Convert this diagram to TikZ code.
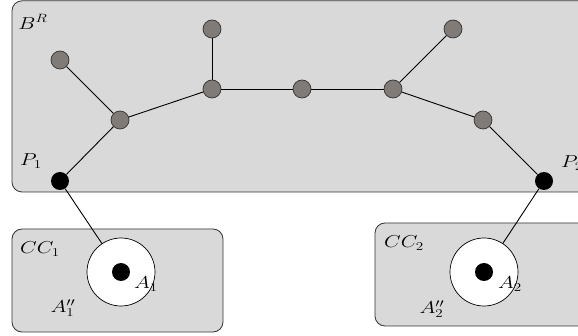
\documentclass[tikz,border=0pt]{standalone}
\usepackage{graphicx}
\usepackage{tikz}
\definecolor{boxgray}{RGB}{217,217,217}
\definecolor{nodegray}{RGB}{128,123,118}
\newcommand{\lbltext}[1]{\scalebox{1.25}[1.0]{$#1$}}
\begin{document}
\begin{tikzpicture}[x=1pt,y=-1pt,
  region/.style={draw=black!80,fill=boxgray,rounded corners=10pt,line width=0.8pt},
  vtx/.style={circle,draw=black!80,fill=nodegray,minimum size=18pt,inner sep=0pt,line width=0.7pt},
  port/.style={circle,fill=black,minimum size=18pt,inner sep=0pt},
  hole/.style={circle,draw=black,fill=white,minimum size=68pt,inner sep=0pt,line width=0.7pt},
  edge/.style={line width=0.9pt},
  lbl/.style={font=\LARGE,inner sep=0pt}]
\useasboundingbox (0,0) rectangle (578,336);
\begin{scope}
\clip (0,0) rectangle (578,336);
% regions
\path[region] (12,0.8) rectangle (590,192);
\path[region] (12,229) rectangle (223,332);
\path[region] (375,223) rectangle (590,326);
% holes
\node[hole] (h1) at (121,272) {};
\node[hole] (h2) at (484,272) {};
\node[port] (a1) at (121,272) {};
\node[port] (a2) at (484,272) {};
% tree
\node[vtx] (l1) at (60,60) {};
\node[vtx] (n1) at (120,120) {};
\node[vtx] (n2) at (212,89) {};
\node[vtx] (l2) at (212,29) {};
\node[vtx] (n3) at (302,89) {};
\node[vtx] (n4) at (393,89) {};
\node[vtx] (l3) at (453,29) {};
\node[vtx] (n5) at (483,120) {};
\node[port] (p1) at (60,181) {};
\node[port] (p2) at (544,181) {};
\draw[edge] (l1) -- (n1);
\draw[edge] (p1) -- (n1);
\draw[edge] (n1) -- (n2);
\draw[edge] (l2) -- (n2);
\draw[edge] (n2) -- (n3);
\draw[edge] (n3) -- (n4);
\draw[edge] (l3) -- (n4);
\draw[edge] (n4) -- (n5);
\draw[edge] (n5) -- (p2);
\draw[edge] (p1) -- (h1);
\draw[edge] (p2) -- (h2);
% labels
\node[lbl] (tbr) at (33,22) {\lbltext{B^R}};
\node[lbl] (tp1) at (31,161) {\lbltext{P_1}};
\node[lbl] (tp2) at (572,163) {\lbltext{P_2}};
\node[lbl] (tcc1) at (40,249) {\lbltext{CC_1}};
\node[lbl] (tcc2) at (404,243) {\lbltext{CC_2}};
\node[lbl] (ta1) at (146,284) {\lbltext{A_1}};
\node[lbl] (ta2) at (510,284) {\lbltext{A_2}};
\node[lbl] (tb1) at (63,308) {\lbltext{A_1''}};
\node[lbl] (tb2) at (432,309) {\lbltext{A_2''}};
\end{scope}
\end{tikzpicture}
\end{document}
